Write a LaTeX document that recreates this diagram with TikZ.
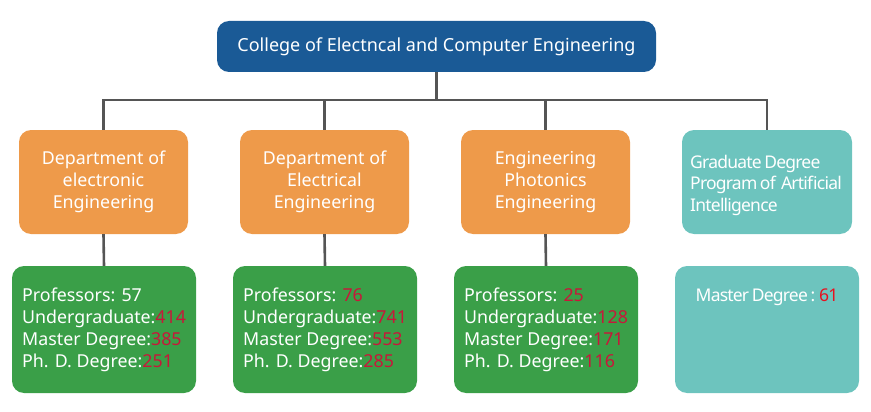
\documentclass[tikz,border=0pt]{standalone}
\usepackage{fontspec}
\setmainfont{Noto Sans}
\newfontfamily\tightfont[LetterSpace=-4.5,WordSpace=0.7]{Noto Sans}
\definecolor{cblue}{HTML}{1A5A96}
\definecolor{corange}{HTML}{EE9A4A}
\definecolor{cteal}{HTML}{6DC4BE}
\definecolor{cgreen}{HTML}{3A9F48}
\definecolor{cred}{HTML}{C8173A}
\definecolor{cred2}{HTML}{E8101E}
\definecolor{cline}{HTML}{555555}
\tikzset{
  box/.style={rounded corners=12pt, inner sep=0pt, text=white},
  topbox/.style={box, fill=cblue, minimum width=439pt, minimum height=51pt, font=\fontsize{18}{20}\selectfont},
  deptbox/.style={box, fill=corange, minimum width=169pt, minimum height=104pt, align=center, font=\fontsize{17.8}{22}\selectfont},
  aibox/.style={box, fill=cteal, minimum width=170pt, minimum height=104pt},
  statbox/.style={box, fill=cgreen, minimum width=184pt, minimum height=127pt},
  aistat/.style={box, fill=cteal, minimum width=184pt, minimum height=127pt},
  stattext/.style={text=white, align=left, inner sep=0pt, anchor=west, font=\fontsize{17.8}{22}\selectfont},
  conn/.style={draw=cline, line width=2.6pt},
}
\newcommand{\rn}[1]{\textcolor{cred}{#1}}
\begin{document}
\begin{tikzpicture}[x=1pt,y=-1pt]
\useasboundingbox (0,0) rectangle (871,412);
\coordinate (busy) at (0,100);
\node[topbox] (top) at (436.5,46.5) {College of Electncal and Computer Engineering};
\node[deptbox] (o1) at (103.5,182) {Department of\\electronic\\Engineering};
\node[deptbox] (o2) at (324.5,182) {Department of\\Electrical\\Engineering};
\node[deptbox] (o3) at (545.5,182) {Engineering\\Photonics\\Engineering};
\node[aibox] (t1) at (767,182) {};
\node[stattext, font=\tightfont\fontsize{17.5}{21.5}\selectfont] (t1txt) at (690,185) {Graduate Degree\\Program of~ Artificial\\Intelligence};
\node[statbox] (g1) at (104,329.5) {};
\node[statbox] (g2) at (325,329.5) {};
\node[statbox] (g3) at (546,329.5) {};
\node[aistat] (t2) at (767,329.5) {};
\node[stattext] (g1txt) at (22,329.5) {Professors: 57\\Undergraduate:\rn{414}\\Master Degree:\rn{385}\\Ph. D. Degree:\rn{251}};
\node[stattext] (g2txt) at (243,329.5) {Professors: \rn{76}\\Undergraduate:\rn{741}\\Master Degree:\rn{553}\\Ph. D. Degree:\rn{285}};
\node[stattext] (g3txt) at (464,329.5) {Professors: \rn{25}\\Undergraduate:\rn{128}\\Master Degree:\rn{171}\\Ph. D. Degree:\rn{116}};
\node[text=white, inner sep=0pt, font=\tightfont\fontsize{17.5}{22}\selectfont] (t2txt) at (767,297) {Master Degree : \textcolor{cred2}{61}};
\draw[conn] (top.south) -- (top.south |- busy);
\draw[conn] (o1.north) |- (top.south |- busy) -| (t1.north);
\draw[conn] (o2.north) -- (o2.north |- busy);
\draw[conn] (o3.north) -- (o3.north |- busy);
\draw[conn] (o1.south) -- (g1.north);
\draw[conn] (o2.south) -- (g2.north);
\draw[conn] (o3.south) -- (g3.north);
\end{tikzpicture}
\end{document}
